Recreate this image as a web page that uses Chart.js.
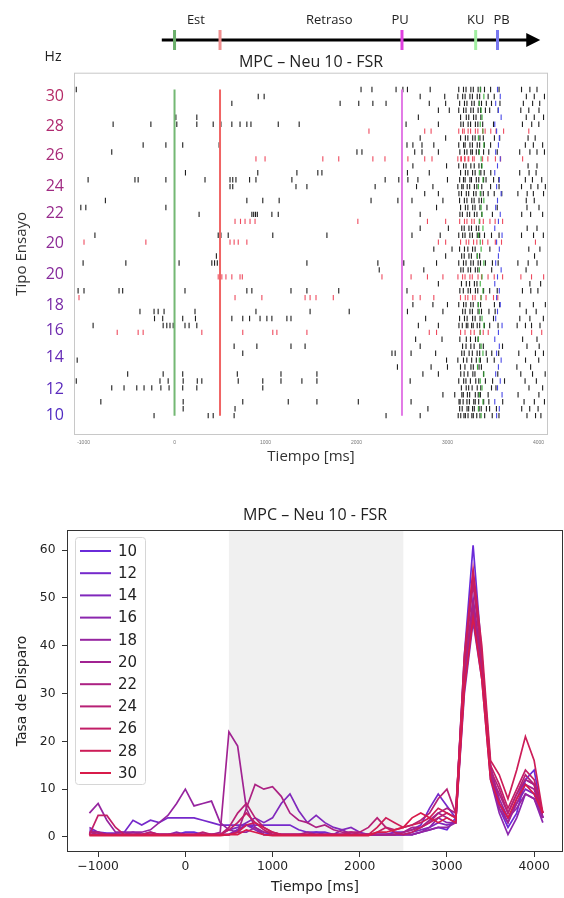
<!DOCTYPE html>
<html>
<head>
<meta charset="utf-8">
<script src="https://cdn.jsdelivr.net/npm/chart.js@4.4.1/dist/chart.umd.min.js"></script>
<style>
  body { margin: 0; background: #fff; width: 564px; height: 898px; overflow: hidden; position: relative; }
  #rasterWrap { position: absolute; left: 0; top: 0; width: 564px; height: 470px; }
  #rateWrap { position: absolute; left: 0; top: 480px; width: 564px; height: 418px; }
</style>
</head>
<body>
<div id="rasterWrap"><canvas id="raster"></canvas></div>
<div id="rateWrap"><canvas id="rate"></canvas></div>
<script>
// ---- raster (top) data ----
const hzLabels = ['10', '12', '14', '16', '18', '20', '20', '22', '24', '26', '28', '30'];
const hzPos = [1.1, 4.84, 9.45, 13.34, 16.95, 21.4, 25.88, 30.2, 34.09, 38.56, 42.74, 47.06];
const hzColors = ['#4f2ac2', '#5a2abd', '#642ab6', '#6e2aae', '#782aa6', '#862a9c', '#8c2a96', '#962a8c', '#a02a82', '#a82a78', '#b02a70', '#b52a66'];
const rasterTicks = [-1000, 0, 1000, 2000, 3000, 4000];

const eventLineTimes = [0, 500, 2500];
const eventLineColors = ['#74b874', '#f06464', '#e27ae6'];
const eventLineSpan = [1, 48];

const timelineSpan = [-140, 4020];
const timelineMarks = [0, 500, 2500, 3310, 3550];
const timelineMarkColors = ['#6aaf6a', '#f09090', '#e040e0', '#a0eea0', '#7878f0'];
const timelineLabels = ['Est', 'Retraso', 'PU', 'KU', 'PB'];
const timelineLabelTimes = [235, 1700, 2480, 3310, 3595];

// spike times per trial (trial 1 at the bottom)
const rasterSpikes = [
  [-225, 370, 425, 655, 2325, 2700, 3118, 3146, 3181, 3197, 3226, 3268, 3284, 3322, 3357, 3409, 3492, 3566, 3874, 3968, 4027],
  [95, 665, 2785, 3134, 3162, 3215, 3233, 3276, 3295, 3348, 3371, 3428, 3463, 3538, 3816, 3904, 3996],
  [-810, 95, 750, 1250, 1565, 2020, 2600, 3127, 3139, 3172, 3214, 3241, 3289, 3305, 3343, 3398, 3455, 3607, 3842, 3955, 4066],
  [2950, 3080, 3158, 3174, 3219, 3244, 3306, 3338, 3362, 3447, 3776, 4005],
  [-690, -555, -415, -335, -250, -150, -60, 90, 245, 970, 3153, 3206, 3233, 3271, 3327, 3366, 3484, 3533, 3896, 4046],
  [-1080, -160, -70, 95, 250, 300, 700, 970, 1170, 1400, 1565, 2590, 3124, 3178, 3203, 3252, 3311, 3344, 3417, 3496, 3627, 3853, 3977],
  [-515, -125, 90, 690, 1170, 1565, 2730, 2900, 3146, 3183, 3224, 3279, 3302, 3396, 3553, 3806, 3935, 4074],
  [2450, 2820, 3000, 3143, 3192, 3258, 3284, 3347, 3373, 3763, 3914],
  [-1070, 2990, 3114, 3176, 3213, 3266, 3317, 3362, 3438, 3514, 3858, 4003],
  [750, 2390, 2425, 2600, 2870, 3157, 3184, 3238, 3273, 3326, 3354, 3426, 3487, 3563, 3784, 3967, 4055],
  [655, 905, 1280, 1435, 2700, 3166, 3204, 3257, 3293, 3356, 3394, 3605, 3874, 4008],
  [2650, 2940, 3136, 3207, 3253, 3308, 3336, 3826, 3984],
  [-630, -400, -345, 300, 750, 1080, 1125, 1455, 2800, 2880, 3144, 3193, 3256, 3294, 3357, 3393, 3448, 3925, 4036],
  [-895, -125, -85, -50, -15, 115, 160, 245, 2680, 2900, 3126, 3163, 3207, 3224, 3265, 3283, 3327, 3354, 3406, 3464, 3556, 3766, 3857, 3924, 4017],
  [-220, -130, 90, 230, 630, 750, 825, 940, 1015, 1070, 1235, 1280, 2760, 3133, 3187, 3216, 3276, 3304, 3358, 3506, 3795, 3906, 4054],
  [-380, -225, -180, -115, 225, 895, 1490, 1920, 2560, 2950, 3167, 3195, 3247, 3274, 3336, 3374, 3456, 3524, 3866, 3975],
  [2620, 2840, 3000, 3124, 3177, 3204, 3256, 3283, 3337, 3364, 3516, 3573, 3796, 3944, 4076],
  [-1050, 665, 960, 1435, 1490, 1555, 1745, 2620, 2700, 2850, 3143, 3196, 3224, 3277, 3304, 3367, 3424, 3506, 3553],
  [-1060, -995, -610, -570, 115, 795, 850, 1280, 1455, 1805, 2555, 3136, 3174, 3227, 3253, 3307, 3333, 3397, 3464, 3547, 3824, 3916, 3994],
  [2900, 3154, 3207, 3243, 3296, 3324, 3906, 4024],
  [480, 520, 565, 630, 720, 745, 2280, 2600, 2780, 2950, 3115, 3166, 3193, 3247, 3273, 3336, 3374, 3446, 3514, 3606, 3807, 3924, 4057],
  [2250, 2740, 3147, 3173, 3227, 3254, 3306, 3333, 3486, 3864],
  [-1005, -535, 50, 410, 440, 470, 500, 1455, 2235, 2520, 2880, 3124, 3176, 3204, 3257, 3284, 3337, 3363, 3417, 3494, 3557, 3774, 3887, 3984],
  [460, 2980, 3156, 3184, 3236, 3263, 3326, 3354, 3957],
  [2850, 3050, 3133, 3187, 3224, 3276, 3304, 3466, 3894, 4016],
  [-995, -315, 610, 655, 700, 795, 2900, 2980, 3144, 3206, 3234, 3287, 3323, 3386, 3444, 3526, 3594, 3967],
  [-875, 480, 510, 590, 1080, 1675, 2610, 2920, 3124, 3167, 3193, 3246, 3274, 3327, 3354, 3407, 3484, 3567, 3814, 3946, 4054],
  [2700, 3010, 3157, 3184, 3236, 3264, 3317, 3344, 3876, 3984],
  [665, 725, 775, 830, 885, 2015, 2780, 2980, 3134, 3187, 3214, 3267, 3294, 3356, 3394, 3467, 3524, 3606],
  [270, 850, 870, 890, 910, 1070, 1140, 2700, 3137, 3164, 3217, 3244, 3296, 3324, 3377, 3494, 3816, 3914, 4046],
  [-1030, -975, -95, 2880, 3144, 3197, 3224, 3277, 3303, 3357, 3434, 3547, 3874, 4006],
  [-760, 795, 970, 1150, 2160, 2455, 2610, 2950, 3133, 3186, 3214, 3267, 3293, 3347, 3374, 3866, 3954],
  [2750, 2900, 3126, 3154, 3207, 3233, 3287, 3314, 3367, 3394, 3447, 3514, 3597, 3774, 3876, 3944, 4056],
  [610, 640, 1335, 1455, 2205, 2660, 2840, 3114, 3157, 3173, 3217, 3244, 3296, 3323, 3377, 3474, 3567, 3814, 3917, 3994, 4076],
  [-950, -435, -400, -95, 335, 610, 640, 675, 825, 895, 1290, 2315, 2465, 2565, 2675, 3000, 3134, 3176, 3194, 3247, 3264, 3317, 3344, 3397, 3424, 3507, 3564, 3856, 3934, 4036],
  [120, 915, 1345, 1575, 1620, 2560, 2800, 3144, 3197, 3224, 3276, 3304, 3367, 3404, 3476, 3794, 3897, 3974],
  [2620, 2990, 3124, 3177, 3204, 3257, 3294, 3346, 3374, 3886, 3984],
  [895, 995, 1630, 1805, 2180, 2313, 2565, 2750, 2830, 3114, 3146, 3154, 3187, 3194, 3227, 3234, 3276, 3294, 3386, 3444, 3527, 3584, 3826],
  [-690, 2005, 2060, 2640, 2720, 2900, 3136, 3187, 3214, 3256, 3274, 3317, 3344, 3397, 3454, 3547, 3794, 3906, 3984, 4066],
  [-345, -95, 90, 490, 2555, 2620, 2720, 2850, 3124, 3177, 3194, 3247, 3274, 3327, 3354, 3406, 3474, 3856, 3944, 4046],
  [2700, 2980, 3144, 3197, 3224, 3277, 3304, 3357, 3394, 3516, 3574, 3886, 3964],
  [2137, 2750, 2820, 3124, 3166, 3184, 3227, 3254, 3307, 3334, 3387, 3414, 3476, 3534, 3617, 3894],
  [-675, -260, 25, 245, 425, 510, 630, 720, 795, 840, 1140, 1370, 2545, 2900, 3147, 3174, 3227, 3254, 3307, 3334, 3387, 3506, 3824, 3926, 4004],
  [15, 245, 2680, 3144, 3207, 3234, 3287, 3314, 3367, 3866, 3954, 4056],
  [2900, 3020, 3124, 3177, 3204, 3257, 3284, 3337, 3364, 3417, 3464, 3557, 3806, 3894, 4006],
  [630, 1820, 2025, 2180, 2325, 2800, 2980, 3134, 3187, 3214, 3267, 3294, 3347, 3374, 3427, 3484, 3577, 3834, 3936, 4014],
  [920, 985, 2700, 2970, 3114, 3167, 3194, 3247, 3274, 3327, 3354, 3447, 3514, 3867, 3954, 4066],
  [-1080, 2050, 2170, 2435, 2510, 2560, 2810, 3124, 3176, 3204, 3257, 3284, 3337, 3364, 3407, 3474, 3567, 3814, 3906, 3984]
];
const redTrials = [13, 18, 21, 26, 29, 38, 42];
const kuTimes = [3370, 3340, 3390, 3350, 3380, 3360, 3400, 3330, 3350, 3390, 3370, 3340,
  3360, 3400, 3380, 3350, 3340, 3370, 3390, 3360, 3380, 3350, 3400, 3330,
  3370, 3360, 3340, 3390, 3350, 3380, 3370, 3400, 3360, 3340, 3390, 3350,
  3380, 3370, 3350, 3400, 3340, 3390, 3360, 3380, 3370, 3350, 3400, 3360];
const pbTimes = [3540, 3570, 3520, 3600, 3550, 3580, 3530, 3560, 3590, 3540, 3570, 3520,
  3560, 3600, 3530, 3550, 3580, 3540, 3570, 3520, 3550, 3590, 3530, 3560,
  3570, 3540, 3600, 3520, 3560, 3580, 3530, 3550, 3590, 3540, 3570, 3520,
  3550, 3580, 3530, 3560, 3570, 3540, 3520, 3590, 3560, 3530, 3580, 3550];

// ---- firing rate (bottom) data ----
const timeMs = [];
for (let t = -1100; t <= 4100; t += 100) timeMs.push(t);
const seriesLabels = ['10', '12', '14', '16', '18', '20', '22', '24', '26', '28', '30'];
const seriesColors = ['#6a2bd9', '#7529cb', '#8028bc', '#8b26ae', '#9625a0', '#a12392', '#ac2183', '#b72075', '#c21e67', '#cd1d58', '#d81b4a'];
const rate10 = [1.5, 0.8, 0.5, 0.5, 0.5, 0.5, 0.5, 1.0, 0.5, 0.5,
  0.5, 1.0, 1.0, 0.5, 0.5, 0.5, 0.5, 1.5, 2.5, 2.0,
  1.0, 0.5, 0.5, 0.5, 0.5, 0.5, 1.0, 0.5, 0.5, 0.5,
  0.5, 0.5, 0.5, 0.5, 0.5, 0.5, 0.5, 0.5, 1.0, 1.5,
  2.0, 1.5, 4, 38, 61, 38, 13, 6, 2, 5,
  12, 14, 4];
const rate12 = [1, 1, 0.8, 0.8, 1, 3.5, 2.5, 3.5, 3, 4,
  4, 4, 4, 3.5, 3, 2.5, 2.5, 2.5, 2.5, 2.5,
  2.5, 2.5, 2.5, 2.5, 1.5, 1, 1, 1, 0.5, 0.5,
  0.5, 0.5, 0.5, 0.5, 0.5, 1, 1, 1.5, 2.5, 6,
  9, 6.5, 4, 34, 50, 36, 15, 7, 3, 8,
  12, 11, 4];
const rate14 = [2, 1, 0.5, 0.5, 0.5, 0.5, 0.5, 0.5, 0.5, 0.5,
  0.5, 0.5, 0.5, 0.5, 0.5, 0.5, 1.5, 2, 3, 4,
  3, 4, 7, 9, 5.5, 3, 4.5, 3, 2, 1.5,
  2, 1, 0.5, 0.5, 0.5, 0.5, 0.5, 1, 1.5, 2,
  3, 2.5, 3, 33, 47, 35, 14, 7, 4, 7,
  10, 9, 4];
const rate16 = [0.5, 0.5, 0.5, 0.5, 0.5, 1, 0.5, 0.5, 0.5, 0.5,
  1, 0.5, 0.5, 0.5, 0.5, 0.5, 0.5, 1.5, 2.5, 1.5,
  0.5, 0.5, 0.5, 0.5, 0.5, 0.5, 0.5, 0.5, 0.5, 1.5,
  0.5, 0.5, 0.5, 0.5, 0.5, 0.5, 0.5, 0.5, 1, 2,
  4, 3, 3, 30, 45, 33, 12, 5, 0.5, 4,
  9, 8, 3];
const rate18 = [5, 7, 3.5, 1, 1, 1, 1, 1.5, 3, 4.5,
  7, 10, 6.5, 7, 7.5, 3, 1.5, 1, 1, 2,
  0.5, 0.5, 0.5, 0.5, 0.5, 0.5, 0.5, 0.5, 0.5, 0.5,
  0.5, 0.5, 0.5, 0.5, 0.5, 0.5, 0.5, 0.5, 1, 1.5,
  2, 2, 3, 33, 48, 34, 14, 8, 4, 6,
  9, 8, 4];
const rate20 = [1, 0.5, 0.5, 0.5, 0.5, 0.5, 0.5, 0.5, 0.5, 0.5,
  0.5, 0.5, 0.5, 0.5, 0.5, 1, 22, 19, 6, 2,
  1, 1, 0.5, 0.5, 0.5, 1, 0.5, 0.5, 0.5, 0.5,
  0.5, 0.5, 0.5, 0.5, 0.5, 0.5, 1, 2, 2, 3.5,
  5, 4, 3, 32, 47, 36, 13, 6, 3, 7,
  11, 10, 4];
const rate22 = [0.5, 0.5, 0.5, 0.5, 0.5, 0.5, 0.5, 0.5, 0.5, 0.5,
  0.5, 0.5, 0.5, 0.5, 0.5, 0.5, 0.5, 1, 6, 11,
  10, 10.5, 8.5, 5, 3.5, 3, 2, 2.5, 1.5, 1,
  1, 0.5, 0.5, 0.5, 0.5, 0.5, 1, 1.5, 2, 3,
  5, 6, 5, 35, 49, 35, 13, 9, 5, 9,
  12, 11, 5];
const rate24 = [1, 1, 0.5, 0.5, 0.5, 0.5, 0.5, 0.5, 0.5, 0.5,
  0.5, 0.5, 0.5, 1, 0.5, 0.5, 2, 5, 7, 4,
  2, 1, 0.5, 0.5, 0.5, 0.5, 0.5, 0.5, 0.5, 0.5,
  1, 1, 2, 4, 2, 1.5, 2, 2.5, 3.5, 5,
  8, 10, 5, 36, 53, 37, 14, 10, 5, 9,
  13, 11, 5];
const rate26 = [0.5, 4.5, 4.5, 2, 0.5, 0.5, 0.5, 1, 0.5, 0.5,
  0.5, 0.5, 0.5, 0.5, 0.5, 0.5, 1.5, 3, 5, 3,
  1.5, 0.5, 0.5, 0.5, 0.5, 0.5, 0.5, 0.5, 0.5, 0.5,
  0.5, 0.5, 0.5, 1, 2, 1, 0.5, 1, 2, 3,
  4, 5, 4, 37, 55, 38, 15, 11, 6, 10,
  14, 12, 5];
const rate28 = [0.5, 0.5, 0.5, 0.5, 0.5, 0.5, 0.5, 0.5, 0.5, 0.5,
  0.5, 0.5, 0.5, 0.5, 0.5, 0.5, 0.5, 1, 2.5, 3,
  2, 1, 0.5, 0.5, 0.5, 0.5, 0.5, 0.5, 0.5, 0.5,
  0.5, 0.5, 0.5, 2, 4, 3, 2, 2.5, 3, 4,
  6, 5, 4, 38, 56, 40, 16, 13, 8, 14,
  21, 16, 5];
const rate30 = [0.3, 0.3, 0.3, 0.3, 0.3, 0.3, 0.3, 0.3, 0.3, 0.3,
  0.3, 0.3, 0.3, 0.3, 0.3, 0.3, 0.5, 0.5, 1.5, 1,
  0.5, 0.3, 0.3, 0.3, 0.3, 0.3, 0.3, 0.3, 0.3, 0.3,
  0.3, 0.3, 0.3, 1, 1, 1.5, 2, 4, 5, 4,
  3, 4, 3, 31, 46, 33, 12, 7, 4, 8,
  11, 9, 5];
const rateSeries = [rate10, rate12, rate14, rate16, rate18, rate20, rate22, rate24, rate26, rate28, rate30];
const rateTicksX = [-1000, 0, 1000, 2000, 3000, 4000];
const rateTicksY = [0, 10, 20, 30, 40, 50, 60];
const shadeSpan = [500, 2500];

const chartTitle = 'MPC \u2013 Neu 10 - FSR';

// Start of raster chart
const rasterDecor = {
  id: 'rasterDecor',
  beforeDatasetsDraw(chart) {
    const { ctx, chartArea: a } = chart;
    ctx.save();
    ctx.strokeStyle = '#c8c8c8';
    ctx.lineWidth = 1;
    ctx.strokeRect(a.left + 0.5, a.top + 0.5, a.width - 1, a.height - 1);
    ctx.restore();
  },
  afterDraw(chart) {
    const { ctx } = chart;
    const xs = chart.scales.x;
    const y0 = 40;
    const x1 = xs.getPixelForValue(timelineSpan[0]);
    const x2 = xs.getPixelForValue(timelineSpan[1]);
    ctx.save();
    ctx.strokeStyle = '#000';
    ctx.lineWidth = 3;
    ctx.beginPath();
    ctx.moveTo(x1, y0);
    ctx.lineTo(x2 - 10, y0);
    ctx.stroke();
    ctx.fillStyle = '#000';
    ctx.beginPath();
    ctx.moveTo(x2, y0);
    ctx.lineTo(x2 - 14, y0 - 7);
    ctx.lineTo(x2 - 14, y0 + 7);
    ctx.closePath();
    ctx.fill();
    timelineMarks.forEach((t, i) => {
      ctx.fillStyle = timelineMarkColors[i];
      ctx.fillRect(xs.getPixelForValue(t) - 1.5, 30, 3, 20);
    });
    ctx.fillStyle = '#222';
    ctx.font = '13px "Open Sans", sans-serif';
    ctx.textAlign = 'center';
    ctx.textBaseline = 'middle';
    timelineLabels.forEach((s, i) => ctx.fillText(s, xs.getPixelForValue(timelineLabelTimes[i]), 20));
    ctx.font = '14px "Open Sans", sans-serif';
    ctx.fillText('Hz', 53, 57);
    ctx.restore();
  }
};

const rasterDatasets = [];
eventLineTimes.forEach((t, i) => {
  rasterDatasets.push({
    type: 'line',
    data: [{ x: t, y: eventLineSpan[0] }, { x: t, y: eventLineSpan[1] }],
    borderColor: eventLineColors[i],
    borderWidth: 2,
    pointRadius: 0
  });
});
const blackPts = [];
const redPts = [];
rasterSpikes.forEach((times, k) => {
  const trial = k + 1;
  const target = redTrials.includes(trial) ? redPts : blackPts;
  times.forEach(t => target.push({ x: t, y: trial }));
});
const kuPts = kuTimes.map((t, k) => ({ x: t, y: k + 1 }));
const pbPts = pbTimes.map((t, k) => ({ x: t, y: k + 1 }));
function tickSet(points, color) {
  return {
    type: 'scatter',
    data: points,
    showLine: false,
    pointStyle: 'line',
    pointRotation: 90,
    pointRadius: 2.7,
    pointBorderWidth: 1.1,
    pointBorderColor: color,
    pointBackgroundColor: color
  };
}
rasterDatasets.push(tickSet(kuPts, '#3cae3c'));
rasterDatasets.push(tickSet(pbPts, '#4848e6'));
rasterDatasets.push(tickSet(redPts, '#ee4a5e'));
rasterDatasets.push(tickSet(blackPts, '#1e1e1e'));

new Chart(document.getElementById('raster').getContext('2d'), {
  type: 'scatter',
  data: { datasets: rasterDatasets },
  options: {
    animation: false,
    responsive: true,
    maintainAspectRatio: false,
    devicePixelRatio: 1,
    events: [],
    layout: { padding: { top: 52.4, right: 16, bottom: 0, left: 0 } },
    plugins: {
      legend: { display: false },
      tooltip: { enabled: false },
      title: {
        display: true,
        text: chartTitle,
        fullSize: false,
        color: '#222',
        font: { family: 'Open Sans', size: 16, weight: 'normal' },
        padding: { top: 0, bottom: 1.1 }
      }
    },
    scales: {
      x: {
        type: 'linear',
        min: -1105,
        max: 4105,
        afterBuildTicks: s => { s.ticks = rasterTicks.map(v => ({ value: v })); },
        afterFit: s => { s.height = 35; },
        grid: { display: false, drawTicks: false },
        border: { display: false },
        ticks: { padding: 5, autoSkip: false, maxRotation: 0, color: '#777', font: { size: 5 }, callback: v => String(v) },
        title: { display: true, text: 'Tiempo [ms]', color: '#333', font: { family: 'Open Sans', size: 15 }, padding: { top: 0, bottom: 4 } }
      },
      y: {
        type: 'linear',
        min: -1.79,
        max: 50.42,
        afterBuildTicks: s => { s.ticks = hzPos.map(v => ({ value: v })); },
        afterFit: s => { s.width = 74; },
        grid: { display: false, drawTicks: false },
        border: { display: false },
        ticks: {
          padding: 10,
          autoSkip: false,
          font: { family: 'Open Sans', size: 16 },
          color: c => hzColors[c.index],
          callback: (v, i) => hzLabels[i]
        },
        title: { display: true, text: 'Tipo Ensayo', color: '#333', font: { family: 'Open Sans', size: 15 }, padding: { top: 13, bottom: 0 } }
      }
    }
  },
  plugins: [rasterDecor]
});
// End of raster chart

// Start of firing rate chart
const rateDecor = {
  id: 'rateDecor',
  beforeDatasetsDraw(chart) {
    const { ctx, chartArea: a } = chart;
    const xs = chart.scales.x;
    const l = xs.getPixelForValue(shadeSpan[0]);
    const r = xs.getPixelForValue(shadeSpan[1]);
    ctx.save();
    ctx.fillStyle = '#f0f0f0';
    ctx.fillRect(l, a.top, r - l, a.height);
    ctx.restore();
  },
  afterDatasetsDraw(chart) {
    const { ctx, chartArea: a } = chart;
    ctx.save();
    ctx.strokeStyle = '#333';
    ctx.lineWidth = 1;
    ctx.strokeRect(a.left + 0.5, a.top + 0.5, a.width - 1, a.height - 1);

    // legend box, top-left inside the axes
    ctx.fillStyle = 'rgba(255,255,255,0.85)';
    ctx.strokeStyle = '#d6d6d6';
    ctx.beginPath();
    ctx.roundRect(a.left + 8.5, a.top + 7.5, 70, 247, 3);
    ctx.fill();
    ctx.stroke();
    ctx.font = '15px "DejaVu Sans", sans-serif';
    ctx.textBaseline = 'middle';
    ctx.textAlign = 'left';
    chart.data.datasets.forEach((ds, i) => {
      const ly = a.top + 21 + i * 22.2;
      ctx.strokeStyle = ds.borderColor;
      ctx.lineWidth = 2;
      ctx.beginPath();
      ctx.moveTo(a.left + 13, ly);
      ctx.lineTo(a.left + 44, ly);
      ctx.stroke();
      ctx.fillStyle = '#222';
      ctx.fillText(ds.label, a.left + 51, ly + 1);
    });
    ctx.restore();
  }
};

new Chart(document.getElementById('rate').getContext('2d'), {
  type: 'line',
  data: {
    datasets: rateSeries.map((vals, i) => ({
      label: seriesLabels[i],
      data: vals.map((v, k) => ({ x: timeMs[k], y: v })),
      borderColor: seriesColors[i],
      borderWidth: 1.7,
      pointRadius: 0,
      tension: 0,
      order: rateSeries.length - i
    }))
  },
  options: {
    animation: false,
    responsive: true,
    maintainAspectRatio: false,
    devicePixelRatio: 1,
    events: [],
    layout: { padding: { top: 25.4, right: 1, bottom: 0, left: 0 } },
    plugins: {
      legend: { display: false },
      tooltip: { enabled: false },
      title: {
        display: true,
        text: chartTitle,
        fullSize: false,
        color: '#222',
        font: { family: 'Open Sans', size: 16, weight: 'normal' },
        padding: { top: 0, bottom: 5.4 }
      }
    },
    scales: {
      x: {
        type: 'linear',
        min: -1357,
        max: 4331,
        afterBuildTicks: s => { s.ticks = rateTicksX.map(v => ({ value: v })); },
        afterFit: s => { s.height = 46; },
        grid: { display: true, drawOnChartArea: false, drawTicks: true, tickLength: 5, color: '#333' },
        border: { display: false },
        ticks: {
          padding: 2,
          autoSkip: false,
          maxRotation: 0,
          color: '#222',
          font: { family: 'DejaVu Sans', size: 12.3 },
          callback: v => (v < 0 ? '\u2212' + Math.abs(v) : String(v))
        },
        title: { display: true, text: 'Tiempo [ms]', color: '#222', font: { family: 'DejaVu Sans', size: 14 }, padding: { top: 0, bottom: 2.6 } }
      },
      y: {
        type: 'linear',
        min: -3.14,
        max: 64.2,
        afterBuildTicks: s => { s.ticks = rateTicksY.map(v => ({ value: v })); },
        afterFit: s => { s.width = 67; },
        grid: { display: true, drawOnChartArea: false, drawTicks: true, tickLength: 5, color: '#333' },
        border: { display: false },
        ticks: { padding: 6.5, autoSkip: false, color: '#222', font: { family: 'DejaVu Sans', size: 12.3 }, callback: v => String(v) },
        title: { display: true, text: 'Tasa de Disparo', color: '#222', font: { family: 'DejaVu Sans', size: 14 }, padding: { top: 13.6, bottom: 0 } }
      }
    }
  },
  plugins: [rateDecor]
});
// End of firing rate chart
</script>
</body>
</html>
